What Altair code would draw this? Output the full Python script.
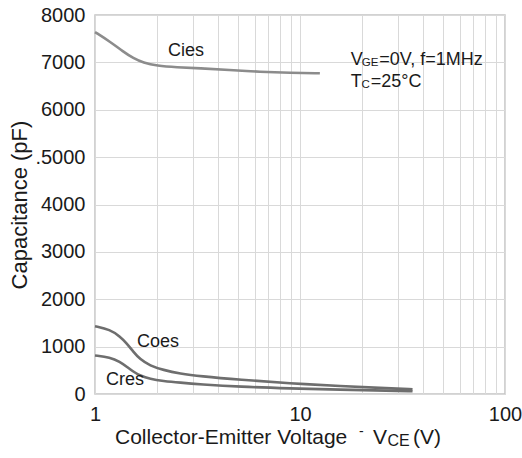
import altair as alt
import pandas as pd

FONT = "Liberation Sans"

# ---- data ----
vce_cies = [1.0, 1.184, 1.374, 1.538, 1.721, 2.0, 2.5, 3.25, 4.5, 6.4, 9.0, 12.5]
cies = [7640, 7437, 7226, 7086, 6993, 6930, 6896, 6875, 6840, 6800, 6780, 6770]

vce_coes = [1.0, 1.184, 1.324, 1.428, 1.538, 1.658, 1.855, 2.15, 2.6, 3.25, 5.1, 8.94, 15.7, 27.5, 35.4]
coes = [1430, 1360, 1215, 1070, 893, 732, 597, 507, 430, 375, 300, 225, 169, 120, 99]

vce_cres = [1.0, 1.184, 1.324, 1.428, 1.538, 1.658, 1.855, 2.15, 2.6, 3.25, 5.1, 8.94, 15.7, 27.5, 35.4]
cres = [812, 776, 682, 577, 471, 387, 317, 274, 239, 205, 152, 118, 91, 70, 58]

x_grid = [1, 2, 3, 4, 5, 6, 7, 8, 9, 10, 20, 30, 40, 50, 60, 70, 80, 90, 100]
y_ticks = [0, 1000, 2000, 3000, 4000, 5000, 6000, 7000, 8000]

curve_names = ["Cies", "Coes", "Cres"]
curve_label_x = [2.78, 2.03, 1.40]
curve_label_y = [7240, 1098, 296]

rows = []
for name, xs, ys in [("Cies", vce_cies, cies), ("Coes", vce_coes, coes), ("Cres", vce_cres, cres)]:
    for i, (a, b) in enumerate(zip(xs, ys)):
        rows.append({"series": name, "vce": a, "cap": b, "order": i})
df = pd.DataFrame(rows)

labels_df = pd.DataFrame({"text": curve_names, "vce": curve_label_x, "cap": curve_label_y})

W, H = 410, 379

xscale = alt.Scale(type="log", domain=[1, 100], nice=False)
yscale = alt.Scale(domain=[0, 8000], nice=False, zero=True)

xenc = alt.X("vce:Q", scale=xscale, axis=alt.Axis(
    values=x_grid, title=None, domain=False, ticks=False,
    labelExpr="(datum.value==1||datum.value==10||datum.value==100) ? format(datum.value,'d') : ''",
    labelFontSize=20, labelFont=FONT, labelColor="#1a1a1a", labelPadding=10,
    gridColor="#d9d9d9", gridWidth=1, labelFlush=False))
yenc = alt.Y("cap:Q", scale=yscale, axis=alt.Axis(
    values=y_ticks, title="Capacitance (pF)", domain=False, ticks=False,
    labelExpr="datum.value==5000 ? '.5000' : format(datum.value,'d')",
    labelFontSize=20, labelFont=FONT, labelColor="#1a1a1a", labelPadding=10,
    titleFont=FONT, titleFontSize=22, titleFontWeight="normal", titleColor="#1a1a1a",
    titlePadding=3, gridColor="#d9d9d9", gridWidth=1))

lines = alt.Chart(df).mark_line(strokeWidth=2.6, interpolate="basis").encode(
    x=xenc, y=yenc,
    color=alt.Color("series:N", scale=alt.Scale(domain=curve_names,
                    range=["#8c8c8c", "#6e6e6e", "#6e6e6e"]), legend=None),
    order="order:Q",
    detail="series:N",
)

curve_text = alt.Chart(labels_df).mark_text(
    font=FONT, fontSize=18, color="#1a1a1a", align="center", baseline="middle"
).encode(x=alt.X("vce:Q", scale=xscale), y=alt.Y("cap:Q", scale=yscale), text="text:N")

# condition annotation (anchored in data coordinates)
ann_x = 17.7
ann_df1 = pd.DataFrame({"vce": [ann_x], "cap": [6938]})
ann_df2 = pd.DataFrame({"vce": [ann_x], "cap": [6474]})

def piece(d, txt, dx, dy, size):
    return alt.Chart(d).mark_text(
        font=FONT, fontSize=size, color="#1a1a1a", align="left", baseline="alphabetic",
        dx=dx, dy=dy, text=txt
    ).encode(x=alt.X("vce:Q", scale=xscale), y=alt.Y("cap:Q", scale=yscale))

ann = [
    piece(ann_df1, "V", 0, 0, 18),
    piece(ann_df1, "GE", 11, 1, 11.5),
    piece(ann_df1, "=0V, f=1MHz", 28.5, 0, 18),
    piece(ann_df2, "T", 0, 0, 18),
    piece(ann_df2, "C", 10.7, 1, 11.5),
    piece(ann_df2, "=25°C", 20, 0, 18),
]

# x-axis title with subscript, drawn below the plot
one = pd.DataFrame({"k": [0]})

def title_piece(txt, px, py, size):
    return alt.Chart(one).mark_text(
        font=FONT, fontSize=size, color="#1a1a1a", align="left", baseline="alphabetic", text=txt
    ).encode(x=alt.value(px), y=alt.value(py))

xt = [
    title_piece("Collector-Emitter Voltage", 20, 429, 21),
    title_piece("-", 264, 421, 14),
    title_piece("V", 278, 429, 21),
    title_piece("CE", 292.5, 431, 16),
    title_piece("(V)", 318, 429, 21),
]

chart = alt.layer(lines, curve_text, *ann, *xt).properties(
    width=W, height=H,
    autosize=alt.AutoSizeParams(type="none"),
    padding={"left": 95, "top": 15, "right": 17, "bottom": 64},
    background="white",
).configure_view(stroke="#c4c4c4", strokeWidth=1.5)

chart.save("out.html", embed_options={"renderer": "svg", "actions": False})
